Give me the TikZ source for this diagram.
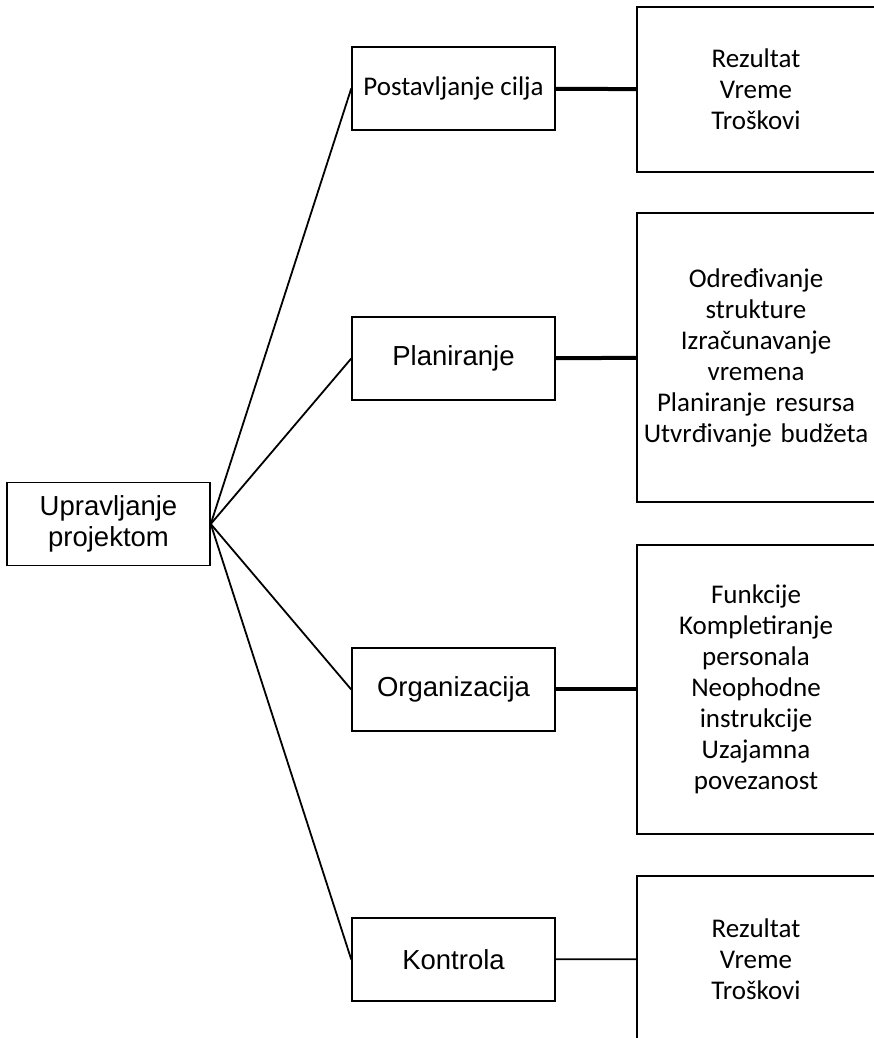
\documentclass[tikz,border=0pt]{standalone}
\usepackage{fontspec}
\setmainfont{Liberation Sans}
\newfontfamily\calfont{Carlito}
\usetikzlibrary{positioning}
\tikzset{
  box/.style={draw,line width=1.5bp,inner sep=0pt,align=center},
  midbox/.style={box,minimum width=203bp,minimum height=83bp,font=\fontsize{27.5bp}{31bp}\selectfont},
  listbox/.style={box,minimum width=238bp,text width=236bp,font=\calfont\fontsize{27bp}{31bp}\selectfont},
  thickline/.style={line width=4bp},
  thinline/.style={line width=1.8bp}
}
\begin{document}
\begin{tikzpicture}
		%%
  \useasboundingbox (0bp,0bp) rectangle (874bp,1038bp);
  \clip (0bp,0bp) rectangle (874bp,1038bp);
  \node (Proj) at (108.5bp,514bp) [midbox] {Upravljanje\\projektom};
  \node (Cilj) at (453.5bp,949.5bp) [midbox,font=\calfont\fontsize{27bp}{31bp}\selectfont] {Postavljanje cilja};
  \node (Plan) at (453.5bp,679.5bp) [midbox] {Planiranje};
  \node (Org) at (453.5bp,348.5bp) [midbox] {Organizacija};
  \node (Kontr) at (453.5bp,78.5bp) [midbox] {Kontrola};
  \node (CiljList) at (756bp,948.5bp) [listbox,minimum height=165bp] {Rezultat\\Vreme\\Troškovi};
  \node (PlanList) at (756bp,680.5bp) [listbox,minimum height=289bp] {Određivanje\\strukture\\Izračunavanje\\vremena\\Planiranje resursa\\Utvrđivanje budžeta};
  \node (OrgList) at (756bp,348.5bp) [listbox,minimum height=289bp] {Funkcije\\Kompletiranje\\personala\\Neophodne\\instrukcije\\Uzajamna\\povezanost};
  \node (KontrList) at (756bp,79bp) [listbox,minimum height=166bp] {Rezultat\\Vreme\\Troškovi};
  \draw [thinline] (Proj.east) -- (Cilj.west);
  \draw [thinline] (Proj.east) -- (Plan.west);
  \draw [thinline] (Proj.east) -- (Org.west);
  \draw [thinline] (Proj.east) -- (Kontr.west);
  \draw [thickline] (Cilj) -- (CiljList);
  \draw [thickline] (Plan) -- (PlanList);
  \draw [thickline] (Org) -- (OrgList);
  \draw [thinline] (Kontr) -- (KontrList);
		%
\end{tikzpicture}
\end{document}
